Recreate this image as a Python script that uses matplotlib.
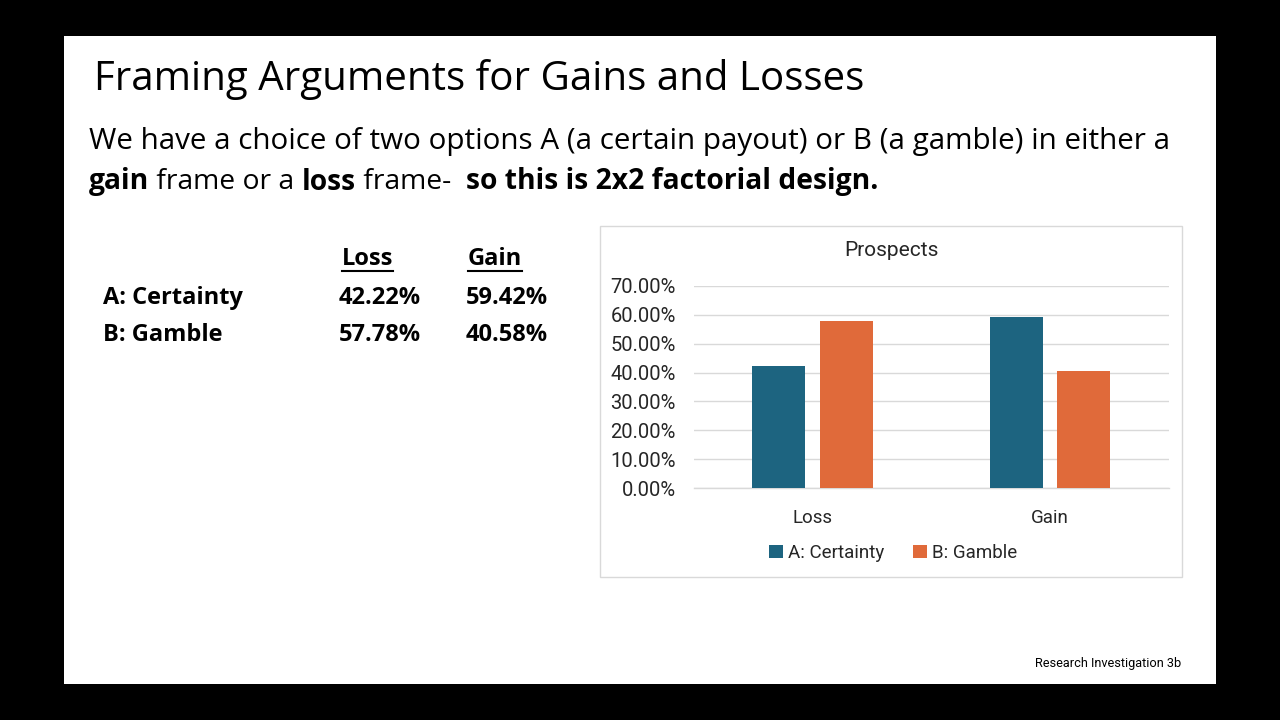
import numpy as np
import matplotlib.pyplot as plt
from matplotlib.patches import Rectangle
from matplotlib.ticker import PercentFormatter

categories = ["Loss", "Gain"]
series = ["A: Certainty", "B: Gamble"]
certainty = [0.4222, 0.5942]
gamble = [0.5778, 0.4058]
table_labels = ["42.22%", "59.42%", "57.78%", "40.58%"]

teal = "#1D6480"
orange = "#E06A3A"
W, H = 1280, 720

plt.rcParams['font.family'] = ['Open Sans', 'DejaVu Sans']

fig = plt.figure(figsize=(12.8, 7.2), dpi=100, facecolor="black")


def fx(x):
    return x / W


def fy(y):
    return 1 - y / H


# white slide
fig.patches.append(Rectangle((fx(64), fy(684)), fx(1216) - fx(64), fy(36) - fy(684),
                             transform=fig.transFigure, facecolor="white", edgecolor="none", zorder=-2))
# chart frame
fig.patches.append(Rectangle((fx(600), fy(577)), fx(1182) - fx(600), fy(226) - fy(577),
                             transform=fig.transFigure, facecolor="white", edgecolor="#D9D9D9",
                             linewidth=1, zorder=-1))

fig.text(fx(94), fy(79), "Framing Arguments for Gains and Losses", fontsize=29,
         va="center", ha="left", color="black")
fig.text(fx(89), fy(141), "We have a choice of two options A (a certain payout) or B (a gamble) in either a",
         fontsize=21.3, va="center", ha="left")

renderer = fig.canvas.get_renderer()
x = 89
pieces = [("gain", "bold"), (" frame or a ", "normal"), ("loss", "bold"),
          (" frame-  ", "normal"), ("so this is 2x2 factorial design.", "bold")]
for s, w in pieces:
    t = fig.text(fx(x), fy(182), s, fontsize=20.3, fontweight=w, va="center", ha="left")
    bb = t.get_window_extent(renderer)
    x += bb.width

# table
tfont = dict(fontsize=17, fontweight="bold", va="center", ha="left")
for label, cx in zip(categories, [342, 468]):
    t = fig.text(fx(cx), fy(259), label, **tfont)
    bb = t.get_window_extent(renderer)
    fig.add_artist(plt.Line2D([fx(bb.x0), fx(bb.x1)], [fy(271), fy(271)],
                              transform=fig.transFigure, color="black", linewidth=1.5))
for i, (name, row_y) in enumerate(zip(series, [298, 335])):
    fig.text(fx(103), fy(row_y), name, **tfont)
    fig.text(fx(339), fy(row_y), table_labels[2 * i], **tfont)
    fig.text(fx(466), fy(row_y), table_labels[2 * i + 1], **tfont)

# chart
ax = fig.add_axes([fx(693.75), fy(488), fx(1168.75) - fx(693.75), fy(286) - fy(488)])
ax.set_zorder(2)
ax.set_facecolor("none")
xs = np.arange(len(categories))
bw = 0.223
off = 0.143
ax.bar(xs - off, certainty, bw, color=teal, label=series[0], zorder=3)
ax.bar(xs + off, gamble, bw, color=orange, label=series[1], zorder=3)
ax.set_xlim(-0.5, 1.5)
ax.set_ylim(0, 0.7)
ax.set_yticks(np.arange(0, 0.71, 0.1))
ax.yaxis.set_major_formatter(PercentFormatter(1.0, decimals=2))
ax.set_xticks(xs)
ax.set_xticklabels(categories)
for s in ax.spines.values():
    s.set_visible(False)
ax.grid(axis="y", color="#D9D9D9", linewidth=1, zorder=0)
ax.axhline(0, color="#D9D9D9", linewidth=1, zorder=1, clip_on=False)
ax.tick_params(axis="both", length=0, colors="#262626")
ax.tick_params(axis="y", pad=13, labelsize=14.5)
ax.tick_params(axis="x", pad=15, labelsize=13.5)
for lab in ax.get_xticklabels() + ax.get_yticklabels():
    lab.set_family(['Roboto', 'DejaVu Sans'])
fig.text(fx(891), fy(251), "Prospects", fontsize=15, color="#262626", ha="center", va="center",
         family=['Roboto', 'DejaVu Sans'])
ax.legend(loc="center", bbox_to_anchor=(fx(893), fy(553)), bbox_transform=fig.transFigure,
          ncol=2, frameon=False, handlelength=0.75, handleheight=0.75, handletextpad=0.3,
          columnspacing=1.5, prop={"family": ['Roboto', 'DejaVu Sans'], "size": 13.5},
          labelcolor="#262626")

fig.text(fx(1181), fy(664), "Research Investigation 3b", fontsize=9.2, ha="right", va="center",
         family=['Roboto', 'DejaVu Sans'])

fig.savefig("out.png", dpi=100, facecolor="black")
